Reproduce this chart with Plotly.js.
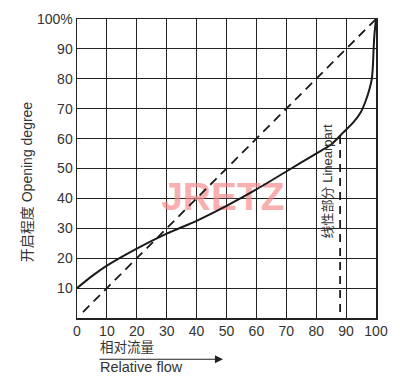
<!DOCTYPE html>
<html>
<head>
<meta charset="utf-8">
<script src="https://cdn.plot.ly/plotly-3.0.1.min.js"></script>
<style>html,body{margin:0;padding:0;background:#fff;}#chart{width:400px;height:385px;}</style>
</head>
<body>
<div id="chart"></div>
<script>
// Equal-percentage-like opening curve (relative flow % vs opening %)
var curveX = [0, 5, 10, 20, 30, 40, 50, 60, 70, 80, 85, 89, 92.5, 95, 96.5, 97.8, 98.6, 99, 99.2, 99.5, 100];
var curveY = [10, 14, 17.5, 23.2, 28.2, 32.5, 37.5, 43, 49, 55, 58, 62, 65.5, 69, 72.5, 76.5, 80, 85, 90, 95, 100];
// Linear characteristic (dashed diagonal)
var diagX = [2, 100];
var diagY = [2, 100];
// Linear part boundary (vertical dashed)
var linX = [88, 88];
var linY = [2, 61];
var xTicks = [0, 10, 20, 30, 40, 50, 60, 70, 80, 90, 100];
var xTickText = ['0', '10', '20', '30', '40', '50', '60', '70', '80', '90', '100'];
var yTicks = [10, 20, 30, 40, 50, 60, 70, 80, 90, 100];
var yTickText = ['10', '20', '30', '40', '50', '60', '70', '80', '90', '100%'];

var FONT = 'Liberation Sans, Arial, Noto Sans CJK SC, sans-serif';
var INK = '#1a1a1a';

var data = [
  {x: [48.8], y: [39.5], mode: 'text', text: ['JRETZ'], hoverinfo: 'skip',
   textfont: {family: 'Liberation Sans Narrow, Liberation Sans, sans-serif', size: 39, color: 'rgba(246,140,140,0.7)', weight: 900},
   showlegend: false},
  {x: diagX, y: diagY, mode: 'lines', line: {color: INK, width: 1.8, dash: '9px,6px'}, showlegend: false},
  {x: linX, y: linY, mode: 'lines', line: {color: INK, width: 1.8, dash: '8px,6px'}, showlegend: false},
  {x: curveX, y: curveY, mode: 'lines', line: {color: INK, width: 2, shape: 'spline', smoothing: 0.6}, showlegend: false}
];

var layout = {
  width: 400, height: 385,
  margin: {l: 77, r: 24, t: 19, b: 67},
  paper_bgcolor: '#fff', plot_bgcolor: '#fff',
  font: {family: FONT, size: 14, color: '#333'},
  xaxis: {range: [0, 100], tickvals: xTicks, ticktext: xTickText, showgrid: true, gridcolor: '#222', gridwidth: 1,
          showline: true, mirror: true, linecolor: '#222', linewidth: 1.5, zeroline: false, ticks: '', fixedrange: true,
          tickfont: {size: 14, color: '#333'}},
  yaxis: {range: [0, 100], tickvals: yTicks, ticktext: yTickText, showgrid: true, gridcolor: '#222', gridwidth: 1,
          showline: true, mirror: true, linecolor: '#222', linewidth: 1.5, zeroline: false, ticks: '', fixedrange: true,
          tickfont: {size: 14, color: '#333'}},
  annotations: [
    {xref: 'paper', yref: 'paper', x: -0.2, y: 0.455, text: '开启程度 Opening degree', textangle: -90,
     showarrow: false, font: {size: 14, color: '#333'}},
    {xref: 'x', yref: 'y', x: 83.6, y: 46, text: '线性部分 Linearpart', textangle: -90,
     showarrow: false, font: {size: 13, color: '#333'}},
    {xref: 'paper', yref: 'paper', x: 0.07, y: -0.1, xanchor: 'left', yanchor: 'middle', text: '相对流量',
     showarrow: false, font: {size: 13.5, color: '#333'}},
    {xref: 'paper', yref: 'paper', x: 0.07, y: -0.164, xanchor: 'left', yanchor: 'middle', text: 'Relative flow',
     showarrow: false, font: {size: 14.5, color: '#333'}},
    {xref: 'paper', yref: 'paper', x: 0.488, y: -0.138, ax: -125, ay: 0, text: '', showarrow: true,
     arrowhead: 2, arrowsize: 1.6, arrowwidth: 1, arrowcolor: '#222'}
  ]
};

Plotly.newPlot('chart', data, layout, {displayModeBar: false, staticPlot: true});
</script>
</body>
</html>
